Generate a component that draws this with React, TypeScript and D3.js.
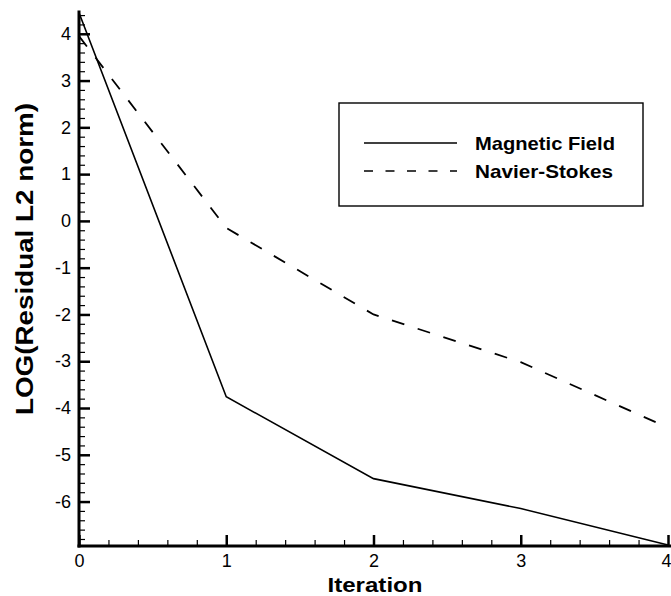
import { axisLeft, axisBottom, scaleLinear, select, line as d3Line, range } from 'd3';
import { useEffect, useRef } from 'react';

// iterations and log residuals
const iterations = [0, 1, 2, 3, 4];
const magneticField = [4.45, -3.76, -5.51, -6.15, -6.93];
const navierStokes = [3.95, -0.15, -2.0, -3.02, -4.42];
const yTicks = [4, 3, 2, 1, 0, -1, -2, -3, -4, -5, -6];
const xTicks = [0, 1, 2, 3, 4];
const legendLabels = ['Magnetic Field', 'Navier-Stokes'];

const WIDTH = 671;
const HEIGHT = 596;
const FONT = '"Liberation Sans", Arial, sans-serif';

const App = () => {
  const svgElem = useRef<SVGSVGElement>(null);

  useEffect(() => {
    if (!svgElem.current) {
      return;
    }
    const svg = select(svgElem.current);
    svg.selectAll('*').remove();

    const xScale = scaleLinear().domain([0, 4]).range([79, 668]);
    const yScale = scaleLinear().domain([-6.95, 4.5]).range([546, 10.4]);

    // minor ticks first, 0.2 apart
    const yMinor = range(-34, 23).map((i) => i / 5).filter((v) => !yTicks.includes(v));
    const xMinor = range(1, 20).map((i) => i / 5).filter((v) => !xTicks.includes(v));

    svg
      .append('g')
      .attr('transform', `translate(${xScale(0)}, 0)`)
      // @ts-expect-error: d3 typing
      .call(axisLeft(yScale).tickValues(yMinor).tickSize(-6).tickFormat(() => ''))
      .call((g: any) => g.select('.domain').remove())
      .selectAll('line')
      .attr('stroke-width', 1.2);

    svg
      .append('g')
      .attr('transform', `translate(0, ${yScale(-6.95)})`)
      // @ts-expect-error: d3 typing
      .call(axisBottom(xScale).tickValues(xMinor).tickSize(-6).tickFormat(() => ''))
      .call((g: any) => g.select('.domain').remove())
      .selectAll('line')
      .attr('stroke-width', 1.2);

    // major ticks + labels
    const yAxis = svg
      .append('g')
      .attr('transform', `translate(${xScale(0)}, 0)`)
      // @ts-expect-error: d3 typing
      .call(axisLeft(yScale).tickValues(yTicks).tickSize(-11).tickPadding(8).tickFormat((d) => `${d}`));
    yAxis.select('.domain').remove();
    yAxis.selectAll('line').attr('stroke-width', 2.5);
    yAxis
      .selectAll('text')
      .attr('font-size', 18)
      .attr('font-family', FONT)
      .attr('fill', '#000');

    const xAxis = svg
      .append('g')
      .attr('transform', `translate(0, ${yScale(-6.95)})`)
      // @ts-expect-error: d3 typing
      .call(axisBottom(xScale).tickValues(xTicks).tickSize(-11).tickPadding(8).tickFormat((d) => `${d}`));
    xAxis.select('.domain').remove();
    xAxis.selectAll('line').attr('stroke-width', 2.5);
    xAxis
      .selectAll('text')
      .attr('font-size', 18)
      .attr('font-family', FONT)
      .attr('fill', '#000');
    // last label sits on the right edge, keep it inside the frame
    xAxis
      .selectAll('text')
      .filter((d: any) => d === 4)
      .attr('text-anchor', 'end')
      .attr('dx', 3);

    // axis lines
    svg
      .append('line')
      .attr('x1', xScale(0))
      .attr('x2', xScale(0))
      .attr('y1', yScale(4.5))
      .attr('y2', yScale(-6.95) + 1.5)
      .attr('stroke', '#000')
      .attr('stroke-width', 3);
    svg
      .append('line')
      .attr('x1', xScale(0) - 1.5)
      .attr('x2', WIDTH)
      .attr('y1', yScale(-6.95))
      .attr('y2', yScale(-6.95))
      .attr('stroke', '#000')
      .attr('stroke-width', 3);

    // series
    const line = d3Line<number>()
      .x((_, i) => xScale(iterations[i]))
      .y((v) => yScale(v));

    svg
      .append('path')
      .attr('d', line(magneticField))
      .attr('fill', 'none')
      .attr('stroke', '#000')
      .attr('stroke-width', 1.6);
    svg
      .append('path')
      .attr('d', line(navierStokes))
      .attr('fill', 'none')
      .attr('stroke', '#000')
      .attr('stroke-width', 1.8)
      .attr('stroke-dasharray', '13,14');

    // axis titles
    svg
      .append('text')
      .attr('x', 375)
      .attr('y', 592)
      .attr('text-anchor', 'middle')
      .attr('font-family', FONT)
      .attr('font-weight', 'bold')
      .attr('font-size', 21)
      .attr('textLength', 95)
      .attr('lengthAdjust', 'spacingAndGlyphs')
      .text('Iteration');
    svg
      .append('g')
      .attr('transform', 'translate(33, 259)')
      .append('text')
      .attr('transform', 'rotate(-90)')
      .attr('text-anchor', 'middle')
      .attr('font-family', FONT)
      .attr('font-weight', 'bold')
      .attr('font-size', 23)
      .attr('textLength', 312)
      .attr('lengthAdjust', 'spacingAndGlyphs')
      .text('LOG(Residual L2 norm)');

    // legend
    const legend = svg.append('g');
    legend
      .append('rect')
      .attr('x', 339)
      .attr('y', 103)
      .attr('width', 304)
      .attr('height', 103)
      .attr('fill', '#fff')
      .attr('stroke', '#000')
      .attr('stroke-width', 1.4);
    legendLabels.forEach((label, i) => {
      const y = 143 + i * 28;
      legend
        .append('line')
        .attr('x1', 364)
        .attr('x2', 457)
        .attr('y1', y)
        .attr('y2', y)
        .attr('stroke', '#000')
        .attr('stroke-width', 1.6)
        .attr('stroke-dasharray', i === 1 ? '9,12.5' : null);
      legend
        .append('text')
        .attr('x', 475)
        .attr('y', y + 7)
        .attr('font-family', FONT)
        .attr('font-weight', 'bold')
        .attr('font-size', 19)
        .attr('textLength', i === 0 ? 140 : 138)
        .attr('lengthAdjust', 'spacingAndGlyphs')
        .text(label);
    });
  }, []);

  return (
    <svg
      ref={svgElem}
      width={WIDTH}
      height={HEIGHT}
      style={{ position: 'absolute', left: 0, top: 0, background: '#fff' }}
    />
  );
};

export default App;
